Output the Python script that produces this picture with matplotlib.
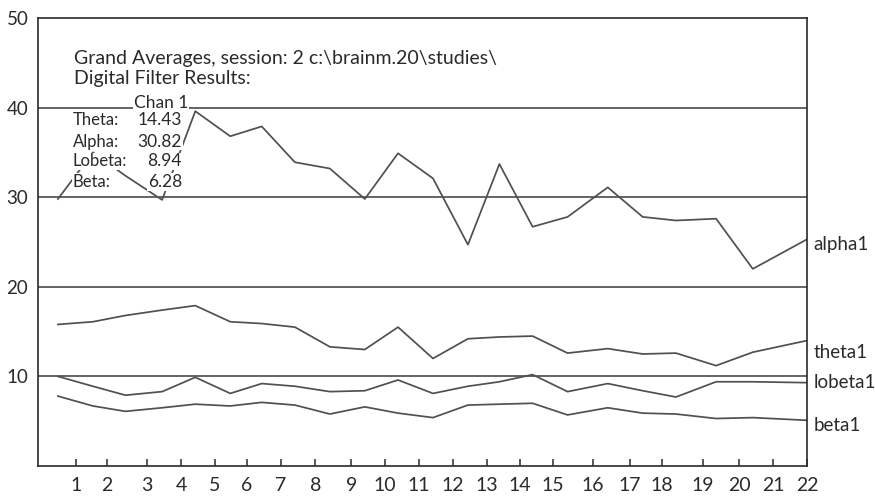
import matplotlib
matplotlib.use("Agg")
import matplotlib.pyplot as plt
from matplotlib.transforms import blended_transform_factory

# session positions on the x axis (the points sit between the tick marks)
session_x = [0.57, 1.57, 2.5, 3.55, 4.5, 5.5, 6.4, 7.35, 8.35, 9.35, 10.3,
             11.3, 12.3, 13.2, 14.15, 15.15, 16.3, 17.3, 18.25, 19.4, 20.45, 22.0]

alpha1 = [29.8, 35.0, 32.4, 29.7, 39.6, 36.8, 37.9, 33.9, 33.2, 29.8, 34.9,
          32.1, 24.7, 33.7, 26.7, 27.8, 31.1, 27.8, 27.4, 27.6, 22.0, 25.3]
theta1 = [15.8, 16.1, 16.8, 17.4, 17.9, 16.1, 15.9, 15.5, 13.3, 13.0, 15.5,
          12.0, 14.2, 14.4, 14.5, 12.6, 13.1, 12.5, 12.6, 11.2, 12.7, 14.0]
lobeta1 = [10.0, 8.9, 7.9, 8.3, 9.9, 8.1, 9.2, 8.9, 8.3, 8.4, 9.6,
           8.1, 8.9, 9.4, 10.2, 8.3, 9.2, 8.4, 7.7, 9.4, 9.4, 9.3]
beta1 = [7.8, 6.7, 6.1, 6.5, 6.9, 6.7, 7.1, 6.8, 5.8, 6.6, 5.9,
         5.4, 6.8, 6.9, 7.0, 5.7, 6.5, 5.9, 5.8, 5.3, 5.4, 5.1]

series_names = ["alpha1", "theta1", "lobeta1", "beta1"]

tick_pos = [1.09, 1.97, 3.12, 4.09, 5.06, 5.98, 6.95, 7.93, 8.96, 9.93, 10.9,
            11.87, 12.85, 13.79, 14.74, 15.88, 16.94, 17.85, 19.03, 20.06, 21.03, 22.0]
tick_labels = [str(i) for i in range(1, 23)]
y_ticks = [10, 20, 30, 40, 50]

header = "Grand Averages, session: 2 c:\\brainm.20\\studies\\"
subheader = "Digital Filter Results:"
chan_label = "Chan 1"
band_names = ["Theta:", "Alpha:", "Lobeta:", "Beta:"]
band_means = ["14.43", "30.82", "8.94", "6.28"]

plt.rcParams['font.family'] = ['Lato', 'DejaVu Sans']
ink = '#2a2a2a'
line_col = '#505050'

fig = plt.figure(figsize=(8.75, 4.96), dpi=100, facecolor='w')
ax = fig.add_axes([38 / 875, 30 / 496, 769 / 875, 448 / 496])

for y in y_ticks[:-1]:
    ax.axhline(y, color='#3a3a3a', lw=1.1, zorder=1)

for vals in (alpha1, theta1, lobeta1, beta1):
    ax.plot(session_x, vals, '-', color=line_col, lw=1.25, zorder=2)

ax.set_xlim(0, 22)
ax.set_ylim(0, 50)
ax.set_xticks(tick_pos)
ax.set_xticklabels(tick_labels)
ax.set_yticks(y_ticks)
ax.tick_params(axis='x', direction='in', length=5, width=1.1, color=ink,
               labelsize=14, pad=8, labelcolor=ink)
ax.tick_params(axis='y', length=0, labelsize=13.5, pad=7, labelcolor=ink)
for s in ax.spines.values():
    s.set_color(ink)
    s.set_linewidth(1.2)

# series names to the right of the frame
offsets = {"alpha1": -0.6, "theta1": -1.3, "lobeta1": 0.0, "beta1": -0.6}
trans = blended_transform_factory(ax.transAxes, ax.transData)
for name, vals in zip(series_names, (alpha1, theta1, lobeta1, beta1)):
    ax.text(1.008, vals[-1] + offsets[name], name, transform=trans,
            ha='left', va='center', fontsize=13.5, color=ink, clip_on=False)

# header block
box = dict(facecolor='white', edgecolor='none', pad=0.5)
ax.text(1.03, 45.5, header, fontsize=14, color=ink, va='center', ha='left')
ax.text(1.03, 43.2, subheader, fontsize=14, color=ink, va='center', ha='left')
ax.text(3.52, 40.5, chan_label, fontsize=12.5, color=ink, va='center', ha='center',
        bbox=box, zorder=5)
rows_y = [38.6, 36.2, 34.0, 31.7]
for name, val, y in zip(band_names, band_means, rows_y):
    ax.text(1.0, y, name, fontsize=12, color=ink, va='center', ha='left',
            bbox=box, zorder=5)
    ax.text(4.12, y, val, fontsize=12.5, color=ink, va='center', ha='right',
            bbox=box, zorder=5)

fig.savefig("out.png", dpi=100, facecolor='w')
